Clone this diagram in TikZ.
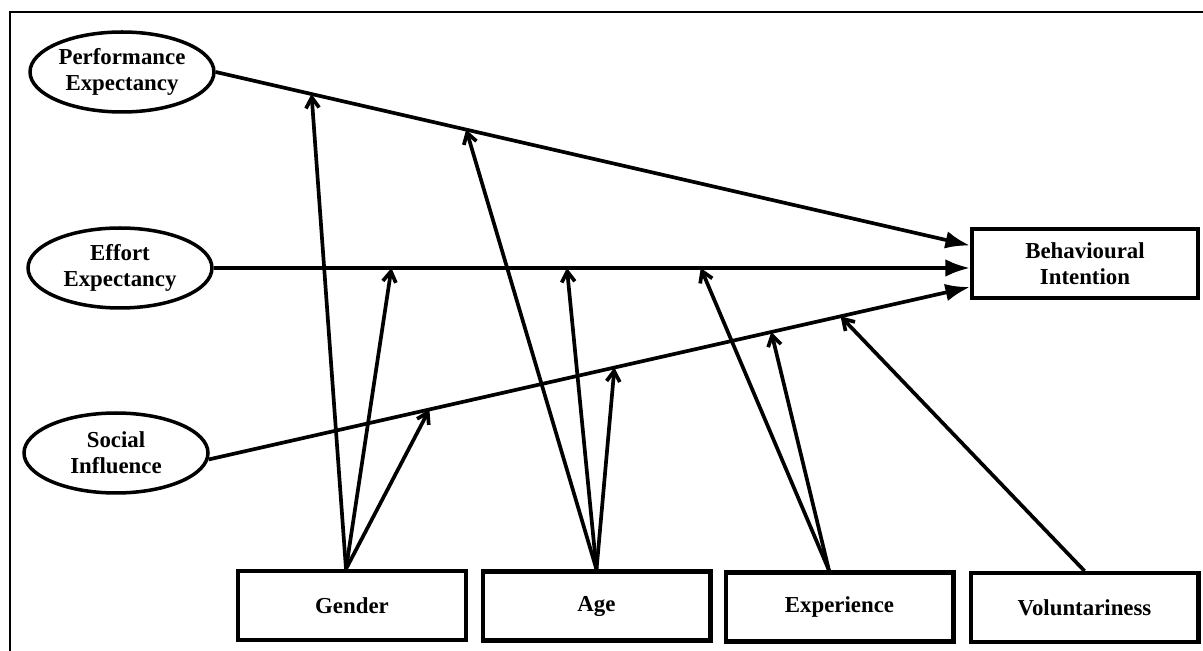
\documentclass[tikz,border=0pt]{standalone}
\usepackage{fontspec}
\setmainfont{Liberation Serif}
\usetikzlibrary{shapes.geometric,arrows.meta}
\begin{document}
\begin{tikzpicture}[x=0.02cm,y=-0.02cm,
 every node/.style={font=\fontsize{13}{14.7}\selectfont\bfseries, align=center, inner sep=0pt},
 ell/.style={ellipse, draw, line width=2pt, minimum width=3.68cm, minimum height=1.6cm},
 box/.style={rectangle, draw, line width=2.3pt, minimum width=4.56cm, minimum height=1.38cm},
 main/.style={line width=2.1pt, -{Latex[length=14pt,width=10pt]}},
 mod/.style={line width=2.1pt, -{Straight Barb[length=6pt,width=7.5pt]}},
 frame/.style={line width=1.4pt}]
\useasboundingbox (0,0) rectangle (1203,651);
\draw[frame] (10,651) -- (10,12) -- (1203,12);

\node[ell] (pe) at (122,72) {Performance\\Expectancy};
\node[ell] (ee) at (120,268) {Effort\\Expectancy};
\node[ell] (si) at (116,453) {Social\\Influence};
\node[box, minimum width=4.52cm] (bi) at (1085,263.5) {Behavioural\\Intention};
\node[box] (gender) at (352,605.5) {Gender};
\node[box] (age) at (596.5,606) {Age};
\node[box] (exp) at (839.5,607) {Experience};
\node[box] (vol) at (1084.5,607.5) {Voluntariness};

\draw[main] (pe.east) -- coordinate[pos=0.127] (p1) coordinate[pos=0.332] (p2) ([yshift=0.36cm]bi.west);
\draw[main] (ee.east) -- coordinate[pos=0.235] (e1) coordinate[pos=0.467] (e2) coordinate[pos=0.644] (e3) (bi.west |- ee.east);
\draw[main] (si.356) -- coordinate[pos=0.29] (s1) coordinate[pos=0.533] (s2) coordinate[pos=0.739] (s3) coordinate[pos=0.83] (s4) ([yshift=-0.47cm]bi.west);

\coordinate (g0) at ([xshift=-0.12cm]gender.north);
\coordinate (a0) at (age.north);
\coordinate (x0) at ([xshift=-0.21cm]exp.north);
\coordinate (v0) at (vol.north);

\draw[mod] (g0) -- (p1);
\draw[mod] (g0) -- (e1);
\draw[mod] (g0) -- (s1);
\draw[mod] (a0) -- (p2);
\draw[mod] (a0) -- (e2);
\draw[mod] (a0) -- (s2);
\draw[mod] (x0) -- (e3);
\draw[mod] (x0) -- (s3);
\draw[mod] (v0) -- (s4);
\end{tikzpicture}
\end{document}
